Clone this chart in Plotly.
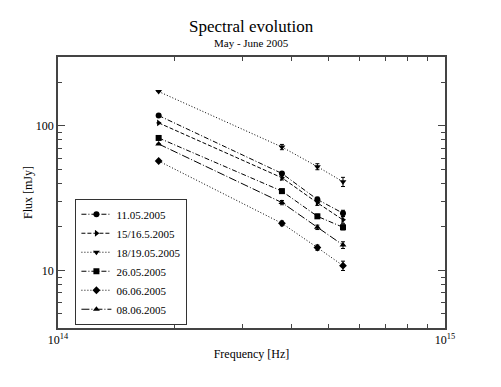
import plotly.graph_objects as go

# photometric bands H, I, R, V
frequency = [1.82e14, 3.79e14, 4.68e14, 5.45e14]

dates = ["11.05.2005", "15/16.5.2005", "18/19.05.2005",
         "26.05.2005", "06.06.2005", "08.06.2005"]

flux_1105 = [118, 46.9, 31.0, 24.9]
flux_1516 = [105, 43.8, 29.4, 22.4]
flux_1819 = [173, 71.5, 52.3, 41.1]
flux_2605 = [82.6, 35.4, 23.7, 19.9]
flux_0606 = [57.2, 21.2, 14.4, 10.8]
flux_0806 = [75.0, 29.5, 19.9, 15.0]

err_1105 = [0, 1.5, 1.2, 1.2]
err_1516 = [0, 1.5, 1.2, 1.2]
err_1819 = [0, 3.0, 2.5, 3.0]
err_2605 = [0, 1.2, 0.8, 0.8]
err_0606 = [0, 0.8, 0.6, 0.8]
err_0806 = [0, 1.0, 0.7, 0.8]

series = [flux_1105, flux_1516, flux_1819, flux_2605, flux_0606, flux_0806]
errors = [err_1105, err_1516, err_1819, err_2605, err_0606, err_0806]
symbols = ["circle", "triangle-right", "triangle-down", "square", "diamond", "triangle-up"]
dashes = ["5px,2px,1px,2px", "4px,2px", "1px,2px", "5px,2px,1px,2px", "1px,2px", "8px,2px,1px,2px"]

font = "Times New Roman"

fig = go.Figure()
for name, flux, err, sym, dash in zip(dates, series, errors, symbols, dashes):
    fig.add_trace(go.Scatter(
        x=frequency, y=flux, name=name, mode="lines+markers",
        line=dict(color="black", width=1, dash=dash),
        marker=dict(symbol=sym, size=6, color="black"),
        error_y=dict(type="data", array=err, visible=True, color="black",
                     thickness=1, width=2),
    ))

axis_common = dict(
    type="log", showgrid=False, zeroline=False, automargin=False,
    showline=True, linecolor="#444", linewidth=1.5, mirror="allticks",
    ticks="inside", tickcolor="#444", tickwidth=1,
    tickfont=dict(family=font, size=12, color="black"),
)

fig.update_xaxes(
    **axis_common,
    range=[14, 15], ticklen=7,
    tickvals=[1e14, 1e15], ticktext=["10<sup>14</sup>", "10<sup>15</sup>"],
    minor=dict(ticks="inside", ticklen=4, tickcolor="#444",
               tickvals=[k * 1e14 for k in range(2, 10)]),
    title=dict(text="Frequency [Hz]", font=dict(family=font, size=12, color="black"),
               standoff=3),
)
fig.update_yaxes(
    **axis_common,
    range=[0.60206, 2.47712], ticklen=7,
    tickvals=[10, 100], ticktext=["10", "100"],
    minor=dict(ticks="inside", ticklen=4, tickcolor="#444",
               tickvals=[5, 6, 7, 8, 9, 20, 30, 40, 50, 60, 70, 80, 90, 200, 300]),
    title=dict(text="Flux [mJy]", font=dict(family=font, size=12, color="black"),
               standoff=1),
)

# the page body adds an 8px offset, so the figure is sized to fit the window
fig.update_layout(
    width=493, height=379,
    margin=dict(l=50, r=56, t=49, b=59),
    paper_bgcolor="white", plot_bgcolor="white",
    font=dict(family=font, color="black"),
    showlegend=True,
    legend=dict(
        x=0.045, y=0.012, xanchor="left", yanchor="bottom",
        bgcolor="white", bordercolor="#333", borderwidth=1,
        font=dict(family=font, size=11, color="black"),
        tracegroupgap=0, itemwidth=30,
    ),
    annotations=[
        dict(text="Spectral evolution", xref="paper", yref="paper", x=0.5, y=1.0,
             yshift=19, showarrow=False, yanchor="bottom",
             font=dict(family=font, size=17, color="black")),
        dict(text="May - June 2005", xref="paper", yref="paper", x=0.5, y=1.0,
             yshift=6, showarrow=False, yanchor="bottom",
             font=dict(family=font, size=11, color="black")),
    ],
)

fig.write_html("out.html")
